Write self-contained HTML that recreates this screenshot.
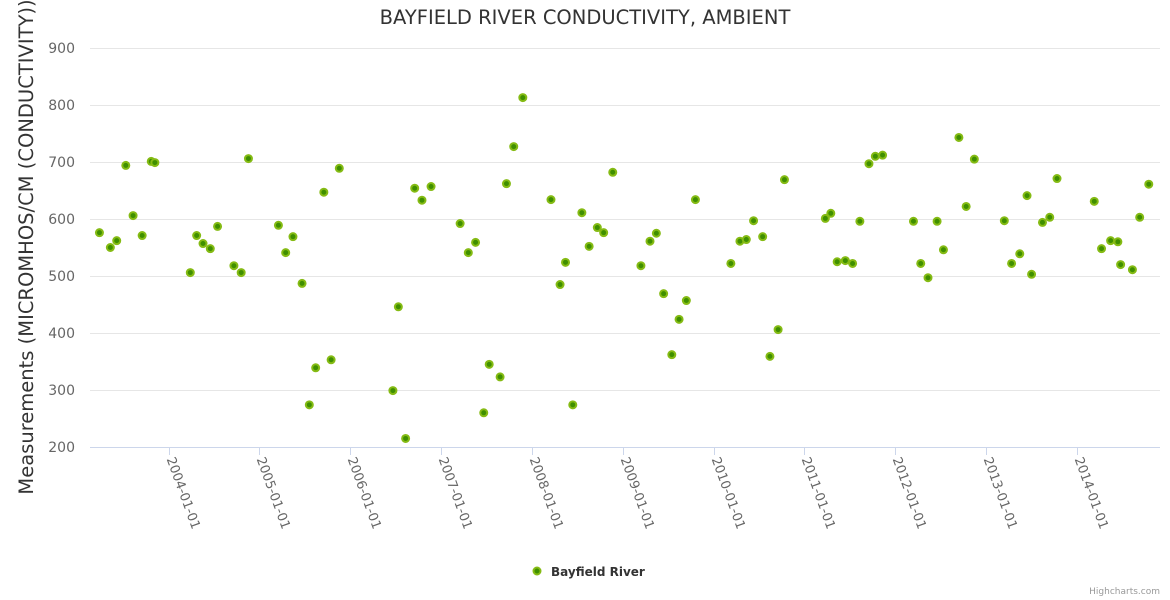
<!DOCTYPE html>
<html><head><meta charset="utf-8"><style>
html,body{margin:0;padding:0;background:#fff;}
svg{display:block;font-family:"DejaVu Sans","Liberation Sans",sans-serif;}
</style></head><body>
<svg id="chart" width="1170" height="600" viewBox="0 0 1170 600">
<text x="585" y="24" text-anchor="middle" font-size="19.5" fill="#333">BAYFIELD RIVER CONDUCTIVITY, AMBIENT</text>
<text transform="translate(33,247) rotate(-90)" text-anchor="middle" font-size="19.5" fill="#333">Measurements (MICROMHOS/CM (CONDUCTIVITY))</text>
<g id="grid"></g>
<g id="yticks"></g>
<g id="xaxis"></g>
<g id="points"></g>
<g>
<circle cx="537" cy="571" r="3.5" fill="#3f8f00" stroke="#85bb14" stroke-width="2"/>
<text x="551" y="576" font-size="12" font-weight="bold" fill="#333">Bayfield River</text>
</g>
<text x="1160" y="594" text-anchor="end" font-size="9" fill="#999">Highcharts.com</text>
</svg>
<script>
const yTicks = [200,300,400,500,600,700,800,900];
const xTickYears = [2004,2005,2006,2007,2008,2009,2010,2011,2012,2013,2014];
const dates = [2003.24,2003.36,2003.43,2003.53,2003.61,2003.71,2003.81,2003.85,
2004.24,2004.31,2004.38,2004.46,2004.54,2004.72,2004.80,2004.88,
2005.21,2005.29,2005.37,2005.47,2005.55,2005.62,2005.71,2005.79,2005.88,
2006.47,2006.53,2006.61,2006.71,2006.79,2006.89,
2007.21,2007.30,2007.38,2007.47,2007.53,2007.65,2007.72,2007.80,2007.90,
2008.21,2008.31,2008.37,2008.45,2008.55,2008.63,2008.72,2008.79,2008.89,
2009.20,2009.30,2009.37,2009.45,2009.54,2009.62,2009.70,2009.80,
2010.19,2010.29,2010.36,2010.44,2010.54,2010.62,2010.71,2010.78,
2011.23,2011.29,2011.36,2011.45,2011.53,2011.61,2011.71,2011.78,2011.86,
2012.20,2012.28,2012.36,2012.46,2012.53,2012.70,2012.78,2012.87,
2013.20,2013.28,2013.37,2013.45,2013.50,2013.62,2013.70,2013.78,
2014.19,2014.27,2014.37,2014.45,2014.48,2014.61,2014.69,2014.79];
const values = [576,550,562,694,606,571,701,699,
506,571,557,548,587,518,506,706,
589,541,569,487,274,339,647,353,689,
299,446,215,654,633,657,
592,541,559,260,345,323,662,727,813,
634,485,524,274,611,552,585,576,682,
518,561,575,469,362,424,457,634,
522,561,564,597,569,359,406,669,
601,610,525,527,522,596,697,710,712,
596,522,497,596,546,743,622,705,
597,522,539,641,503,594,603,671,
631,548,562,560,520,511,603,661];

const NS='http://www.w3.org/2000/svg';
const plotL=90, plotR=1160, plotT=48, plotB=447;
const yMin=200, yMax=900;
function yPos(v){return plotB-(v-yMin)/(yMax-yMin)*(plotB-plotT);}
function xPos(t){return 168.5+(t-2004)*90.85;}
function mk(tag,attrs){const e=document.createElementNS(NS,tag);for(const k in attrs)e.setAttribute(k,attrs[k]);return e;}

const grid=document.getElementById('grid'), yt=document.getElementById('yticks');
yTicks.forEach(v=>{
  const y=Math.round(yPos(v))+0.5;
  const l=mk('line',{x1:plotL,x2:plotR,y1:y,y2:y,stroke:v===yMin?'#ccd6eb':'#e6e6e6','stroke-width':1});
  
  
  grid.appendChild(l);
  const t=mk('text',{x:75,y:yPos(v)+5,'text-anchor':'end','font-size':14,fill:'#666'});
  
  
  t.textContent=v;
  yt.appendChild(t);
});
const xa=document.getElementById('xaxis');
xTickYears.forEach(yr=>{
  const x=Math.round(xPos(yr))+0.5;
  const tk=mk('line',{x1:x,x2:x,y1:plotB,y2:plotB+8,stroke:'#ccd6eb','stroke-width':1});
  
  
  xa.appendChild(tk);
  const t=mk('text',{x:0,y:0,'font-size':13,fill:'#666',transform:'translate('+(x-3)+','+(plotB+12)+') rotate(70)'});
  
  
  t.textContent=yr+'-01-01';
  xa.appendChild(t);
});
const pts=document.getElementById('points');
dates.forEach((d,i)=>{
  const c=mk('circle',{cx:xPos(d),cy:yPos(values[i]),r:3.5,fill:'#3f8f00',stroke:'#85bb14','stroke-width':2});
  
  
  pts.appendChild(c);
});
</script>
</body></html>
